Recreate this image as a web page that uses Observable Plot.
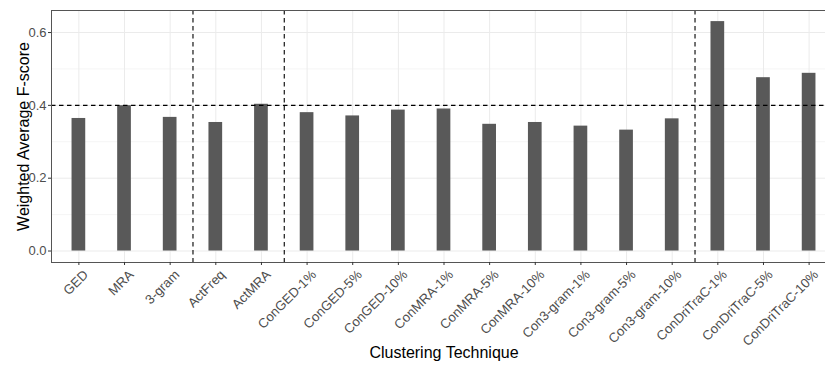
<!DOCTYPE html>
<html><head><meta charset="utf-8">
<script src="https://cdn.jsdelivr.net/npm/d3@7"></script>
<script src="https://cdn.jsdelivr.net/npm/@observablehq/plot@0.6"></script>
<style>html,body{margin:0;padding:0;overflow:hidden;background:#fff}</style>
</head><body><div id="chart"></div>
<script>
const categories = ["GED", "MRA", "3-gram", "ActFreq", "ActMRA", "ConGED-1%", "ConGED-5%", "ConGED-10%",
  "ConMRA-1%", "ConMRA-5%", "ConMRA-10%", "Con3-gram-1%", "Con3-gram-5%", "Con3-gram-10%",
  "ConDriTraC-1%", "ConDriTraC-5%", "ConDriTraC-10%"];
const scores = [0.364, 0.399, 0.367, 0.353, 0.403, 0.380, 0.371, 0.387,
  0.390, 0.348, 0.353, 0.343, 0.332, 0.363, 0.630, 0.476, 0.488];
const groupBreaks = [2.5, 4.5, 13.5];
const threshold = 0.4;
const yTicks = [0, 0.2, 0.4, 0.6];
const yMinorTicks = [0.1, 0.3, 0.5];

const idx = categories.map((_, i) => i);
const data = categories.map((c, i) => ({c, i, v: scores[i]}));
const font = "'Liberation Sans', Arial, sans-serif";

const plot = Plot.plot({
  width: 825, height: 368,
  marginTop: 10, marginBottom: 106, marginLeft: 51, marginRight: -11,
  style: {fontFamily: font, background: "white"},
  x: {type: "linear", domain: [-0.6, 16.6], axis: null},
  y: {domain: [-0.0315, 0.6605], axis: null},
  marks: [
    Plot.ruleY(yMinorTicks, {stroke: "#f2f2f2", strokeWidth: 0.8}),
    Plot.ruleY(yTicks, {stroke: "#ebebeb", strokeWidth: 1}),
    Plot.ruleX(idx, {stroke: "#ebebeb", strokeWidth: 1}),
    Plot.rectY(data, {x1: d => d.i - 0.15, x2: d => d.i + 0.15, y1: 0, y2: "v", fill: "#595959"}),
    Plot.ruleY([threshold], {stroke: "black", strokeWidth: 1.1, strokeDasharray: "4.5,3.5"}),
    Plot.ruleX(groupBreaks, {stroke: "black", strokeWidth: 1.1, strokeDasharray: "4.5,3.5"}),
    Plot.frame({stroke: "#555", strokeWidth: 1}),
    Plot.axisY({ticks: yTicks, tickFormat: d3.format(".1f"), tickSize: 3, tickPadding: 2,
      fontSize: 13, stroke: "#333", fill: "#4d4d4d", label: null}),
    Plot.axisX({ticks: idx, tickFormat: () => "", tickSize: 3, stroke: "#333", label: null}),
    Plot.axisX({ticks: idx, tickFormat: i => categories[i], tickRotate: -45, tickSize: 0, tickPadding: 6,
      fontSize: 13.2, fill: "#4d4d4d", textAnchor: "end", dx: 7, dy: 4, label: null}),
    Plot.text(["Weighted Average F-score"], {frameAnchor: "left", rotate: -90, dx: -28,
      fontSize: 16, fill: "black", textAnchor: "middle"}),
    Plot.text(["Clustering Technique"], {frameAnchor: "bottom", dy: 95, lineAnchor: "bottom",
      fontSize: 16, fill: "black", textAnchor: "middle"})
  ]
});
document.getElementById("chart").appendChild(plot);
</script>
</body></html>
